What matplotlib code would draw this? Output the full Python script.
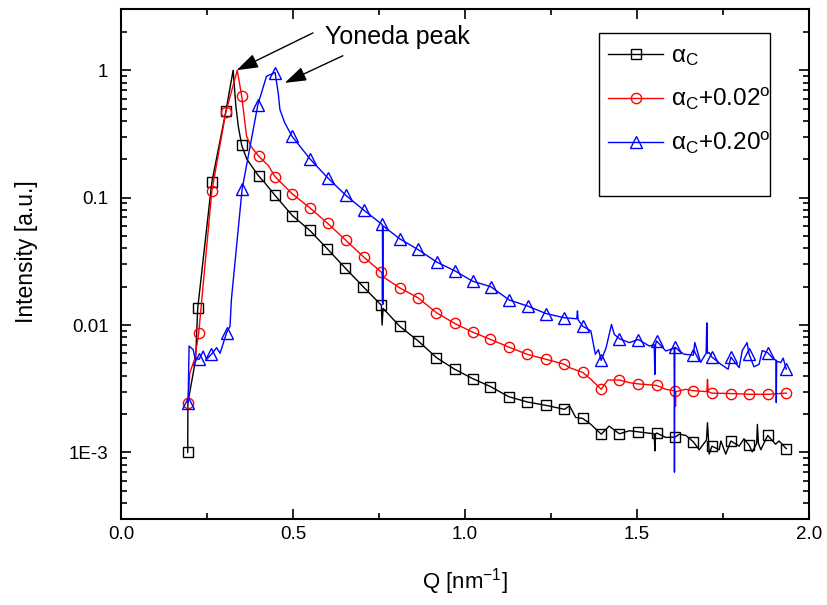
import numpy as np
import matplotlib
matplotlib.use('Agg')
import matplotlib.pyplot as plt
from matplotlib.patches import Rectangle

plt.rcParams['font.family'] = ['Liberation Sans', 'DejaVu Sans']
plt.rcParams['mathtext.fontset'] = 'custom'
plt.rcParams['mathtext.rm'] = 'Liberation Sans'
plt.rcParams['mathtext.it'] = 'Liberation Sans:italic'

# scan at the critical angle: marker points and extra line vertices
q_black_mk = [0.194, 0.223, 0.264, 0.305, 0.351, 0.400, 0.448, 0.498, 0.549, 0.600,
              0.652, 0.704, 0.757, 0.810, 0.864, 0.917, 0.970, 1.022, 1.074, 1.127,
              1.181, 1.236, 1.289, 1.342, 1.396, 1.449, 1.504, 1.557, 1.611, 1.664,
              1.718, 1.773, 1.826, 1.880, 1.934]
i_black_mk = [1.0e-3, 0.0135, 0.132, 0.478, 0.257, 0.148, 0.104, 0.0724, 0.0553, 0.0396,
              0.028, 0.020, 0.0143, 0.0098, 0.0075, 0.00555, 0.0045, 0.0038, 0.00329, 0.00274,
              0.00249, 0.00234, 0.00218, 0.00185, 0.00139, 0.00140, 0.00145, 0.00142, 0.00132, 0.00121,
              0.00112, 0.00123, 0.00114, 0.00136, 0.00107]
q_black_ln = [0.1945, 0.210, 0.217, 0.326, 0.334, 0.341, 0.366, 0.418, 0.759, 0.762,
              1.304, 1.322, 1.366, 1.419, 1.478, 1.550, 1.552, 1.554, 1.584, 1.623,
              1.642, 1.681, 1.702, 1.705, 1.708, 1.710, 1.739, 1.744, 1.758, 1.797,
              1.811, 1.835, 1.848, 1.850, 1.853, 1.860, 1.903, 1.913]
i_black_ln = [2.46e-3, 4.2e-3, 5.4e-3, 1.0, 0.522, 0.364, 0.20, 0.131, 0.0100, 0.0135,
              0.00232, 0.00188, 0.00166, 0.00161, 0.00148, 0.00140, 0.00103, 0.00140, 0.00131, 0.00139,
              0.00136, 0.00105, 0.00125, 0.00171, 0.00125, 0.00097, 0.00105, 0.00123, 0.00097, 0.00112,
              0.00128, 0.00101, 0.00118, 0.00166, 0.00118, 0.00105, 0.00116, 0.00123]

# alpha_c + 0.02 deg
q_red_mk = [0.195, 0.226, 0.264, 0.305, 0.351, 0.400, 0.448, 0.498, 0.549, 0.601,
            0.654, 0.706, 0.757, 0.810, 0.863, 0.917, 0.970, 1.022, 1.074, 1.127,
            1.181, 1.236, 1.289, 1.342, 1.396, 1.449, 1.504, 1.557, 1.611, 1.664,
            1.718, 1.773, 1.826, 1.880, 1.934]
i_red_mk = [0.00246, 0.0087, 0.112, 0.472, 0.625, 0.212, 0.146, 0.107, 0.0832, 0.0628,
            0.0462, 0.0341, 0.026, 0.0196, 0.0164, 0.0125, 0.0103, 0.0088, 0.00772, 0.00672,
            0.00589, 0.00538, 0.00492, 0.00425, 0.00313, 0.0037, 0.00345, 0.00336, 0.00304, 0.00305,
            0.00292, 0.0029, 0.00286, 0.00286, 0.00292]
q_red_ln = [0.200, 0.215, 0.338, 0.365, 0.379, 0.428, 0.759, 0.760, 0.761, 1.304,
            1.366, 1.415, 1.478, 1.584, 1.612, 1.613, 1.642, 1.703, 1.705, 1.707]
i_red_ln = [0.0042, 0.0055, 1.0, 0.304, 0.25, 0.179, 0.025, 0.015, 0.024, 0.00463,
            0.00375, 0.0037, 0.00353, 0.00313, 0.0023, 0.0030, 0.00313, 0.0030, 0.00375, 0.0030]

# alpha_c + 0.20 deg
q_blue_mk = [0.195, 0.227, 0.263, 0.307, 0.352, 0.398, 0.448, 0.497, 0.549, 0.601,
             0.654, 0.706, 0.759, 0.810, 0.863, 0.918, 0.972, 1.022, 1.075, 1.129,
             1.182, 1.236, 1.289, 1.342, 1.396, 1.449, 1.504, 1.557, 1.611, 1.664,
             1.718, 1.773, 1.826, 1.880, 1.934]
i_blue_mk = [0.00246, 0.00538, 0.0059, 0.0087, 0.116, 0.538, 0.96, 0.304, 0.202, 0.143,
             0.104, 0.0798, 0.0616, 0.0476, 0.0392, 0.0312, 0.0265, 0.0221, 0.020, 0.0157,
             0.0141, 0.0123, 0.0114, 0.0098, 0.00528, 0.0078, 0.0077, 0.0075, 0.0067, 0.0058,
             0.0056, 0.0056, 0.0059, 0.00607, 0.0045]
q_blue_ln = [0.198, 0.210, 0.215, 0.239, 0.249, 0.278, 0.288, 0.317, 0.321, 0.423,
             0.457, 0.462, 0.476, 0.760, 0.761, 0.762, 1.325, 1.327, 1.329, 1.366,
             1.379, 1.388, 1.410, 1.426, 1.434, 1.478, 1.536, 1.550, 1.552, 1.554,
             1.584, 1.608, 1.609, 1.610, 1.623, 1.637, 1.668, 1.685, 1.701, 1.703,
             1.705, 1.710, 1.744, 1.765, 1.797, 1.806, 1.820, 1.840, 1.855, 1.864,
             1.898, 1.904, 1.905, 1.906, 1.918, 1.925]
i_blue_ln = [0.00684, 0.0064, 0.0055, 0.00625, 0.00538, 0.00664, 0.0060, 0.0098, 0.0159, 0.897,
             0.665, 0.492, 0.387, 0.060, 0.0145, 0.060, 0.0112, 0.0129, 0.0110, 0.0090,
             0.0059, 0.0064, 0.0066, 0.0101, 0.00845, 0.00728, 0.00684, 0.0070, 0.0041, 0.0070,
             0.00625, 0.0066, 0.0007, 0.0066, 0.00625, 0.0059, 0.0073, 0.0051, 0.0060, 0.0104,
             0.0060, 0.00607, 0.00492, 0.0045, 0.00463, 0.0063, 0.00728, 0.0047, 0.00492, 0.0063,
             0.00538, 0.0053, 0.00246, 0.0052, 0.00507, 0.0055]


def merge(q_mk, i_mk, q_ln, i_ln):
    q = np.array(q_mk + q_ln)
    y = np.array(i_mk + i_ln)
    is_mk = np.array([True] * len(q_mk) + [False] * len(q_ln))
    order = np.argsort(q, kind='stable')
    return q[order], y[order], list(is_mk[order])


fig = plt.figure(figsize=(8.27, 6.05), dpi=100)
ax = fig.add_axes([0.1463, 0.1421, 0.8319, 0.8422])

series = [
    (q_black_mk, i_black_mk, q_black_ln, i_black_ln, 'black', 's', 6.9, r'$\mathregular{\alpha_C}$'),
    (q_red_mk, i_red_mk, q_red_ln, i_red_ln, 'red', 'o', 7.4, r'$\mathregular{\alpha_C}$+0.02$^\mathregular{o}$'),
    (q_blue_mk, i_blue_mk, q_blue_ln, i_blue_ln, 'blue', '^', 8.8, r'$\mathregular{\alpha_C}$+0.20$^\mathregular{o}$'),
]
for q_mk, i_mk, q_ln, i_ln, col, mk, ms, lab in series:
    q, y, every = merge(q_mk, i_mk, q_ln, i_ln)
    ax.plot(q, y, color=col, lw=1.0, marker=mk, ms=ms, mfc='none', mec=col, mew=1.0,
            markevery=every, label=lab)

ax.set_yscale('log')
ax.set_xlim(0.0, 2.0)
ax.set_ylim(3.0e-4, 3.0)
ax.set_xticks([0.0, 0.5, 1.0, 1.5, 2.0])
ax.set_xticklabels(['0.0', '0.5', '1.0', '1.5', '2.0'])
ax.set_xticks([0.25, 0.75, 1.25, 1.75], minor=True)
ax.set_yticks([1e-3, 1e-2, 1e-1, 1])
ax.set_yticklabels(['1E-3', '0.01', '0.1', '1'])
ax.tick_params(which='both', direction='in', top=True, right=True, width=1.2, labelsize=13.5)
ax.tick_params(which='major', length=7)
ax.tick_params(axis='x', which='major', pad=5)
ax.tick_params(axis='y', which='major', pad=9)
ax.tick_params(which='minor', length=4)
for sp in ax.spines.values():
    sp.set_linewidth(1.5)

ax.set_xlabel(r'Q [nm$^{\mathregular{-1}}$]', fontsize=16, labelpad=17)
ax.set_ylabel('Intensity [a.u.]', fontsize=16.5)
ax.yaxis.set_label_coords(-0.121, 0.525)

# annotation arrows pointing at the Yoneda peaks
ax.text(0.592, 1.84, 'Yoneda peak', fontsize=18, va='center', ha='left')
arrow = dict(arrowstyle='-|>,head_length=0.6,head_width=0.2', color='black', lw=1.0,
             mutation_scale=22, shrinkA=0, shrinkB=0)
ax.annotate('', xy=(0.336, 1.0), xytext=(0.558, 1.965), arrowprops=arrow)
ax.annotate('', xy=(0.476, 0.796), xytext=(0.645, 1.30), arrowprops=arrow)

# legend with its own frame
ax.add_patch(Rectangle((0.695, 0.633), 0.248, 0.320, transform=ax.transAxes,
                       fill=False, edgecolor='black', lw=1.0, zorder=5))
ax.legend(loc='upper left', bbox_to_anchor=(0.708, 0.930), frameon=False, fontsize=17.5,
          borderpad=0, borderaxespad=0, handlelength=2.26, handletextpad=0.32,
          labelspacing=0.74)

plt.savefig('out.png', dpi=100)
